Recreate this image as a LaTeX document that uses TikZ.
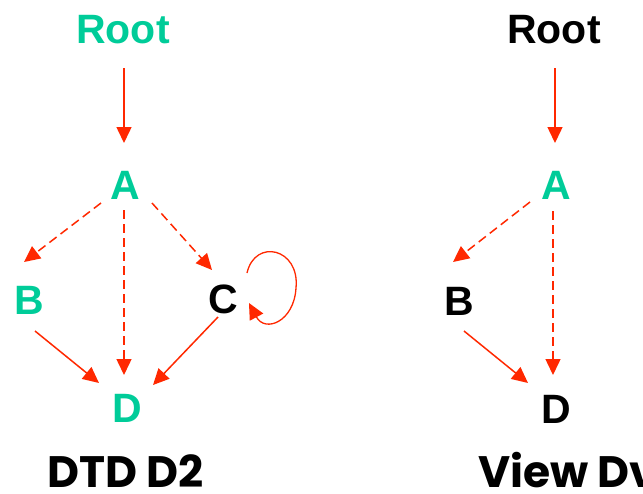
\documentclass[tikz,border=0pt]{standalone}
\usepackage{fontspec}
\setmainfont{Liberation Sans}
\newfontfamily\capfont{Poppins}
\usetikzlibrary{arrows.meta,calc}
\definecolor{tealgreen}{RGB}{0,204,153}
\definecolor{arrred}{RGB}{255,40,0}
\begin{document}
\begin{tikzpicture}[x=1pt,y=-1pt,
  lbl/.style={anchor=base,inner sep=0pt,outer sep=0pt,font=\fontsize{41}{41}\selectfont\bfseries},
  grn/.style={lbl,text=tealgreen},
  blk/.style={lbl,text=black},
  captext/.style={anchor=base west,inner sep=0pt,font=\capfont\fontsize{44}{44}\selectfont\bfseries},
  edge/.style={draw=arrred,line width=1.5pt,-{Triangle[length=16pt,width=15pt]}},
  dedge/.style={edge,dash pattern=on 9pt off 5pt}]
\useasboundingbox (0,0) rectangle (643,493);
% left graph
\node[grn] (rootL) at (123,43) {Root};
\node[grn] (aL) at (125,199) {A};
\node[grn] (bL) at (29.5,314) {B};
\node[blk] (cL) at (223,313) {C};
\node[grn] (dL) at (127,422) {D};
% right graph
\node[blk] (rootR) at (554,43) {Root};
\node[grn] (aR) at (556,199) {A};
\node[blk] (bR) at (459,315) {B};
\node[blk] (dR) at (556,423) {D};
% captions
\node[captext] (capL) at (47,487) {DTD D2};
\node[captext] (capR) at (478,487) {View Dv};
% left edges
\draw[edge] ($(rootL.base)+(1,25)$) -- ($(aL.base)+(-1,-56)$);
\draw[dedge] ($(aL.base)+(-24,4)$) -- ($(bL.base)+(-5.5,-52)$);
\draw[dedge] ($(aL.base)+(-1,11)$) -- ($(dL.base)+(-3,-47)$);
\draw[dedge] ($(aL.base)+(27,4)$) -- ($(cL.base)+(-11,-43)$);
\draw[edge] ($(bL.base)+(5.5,17)$) -- ($(dL.base)+(-28,-39)$);
\draw[edge] ($(cL.base)+(-5,4)$) -- ($(dL.base)+(26,-37)$);
\draw[edge,line width=1.3pt] ($(cL.base)+(24,-40)$) .. controls ($(cL.base)+(32,-75)$) and ($(cL.base)+(77,-65)$) .. ($(cL.base)+(73,-25)$) .. controls ($(cL.base)+(71,9)$) and ($(cL.base)+(42,20)$) .. ($(cL.base)+(26,-10)$);
% right edges
\draw[edge] ($(rootR.base)+(1,25)$) -- ($(aR.base)+(-1,-56)$);
\draw[dedge] ($(aR.base)+(-26,3)$) -- ($(bR.base)+(-6,-53)$);
\draw[dedge] ($(aR.base)+(-3,12)$) -- ($(dR.base)+(-3,-48)$);
\draw[edge] ($(bR.base)+(5,16)$) -- ($(dR.base)+(-28,-40)$);
\end{tikzpicture}
\end{document}
